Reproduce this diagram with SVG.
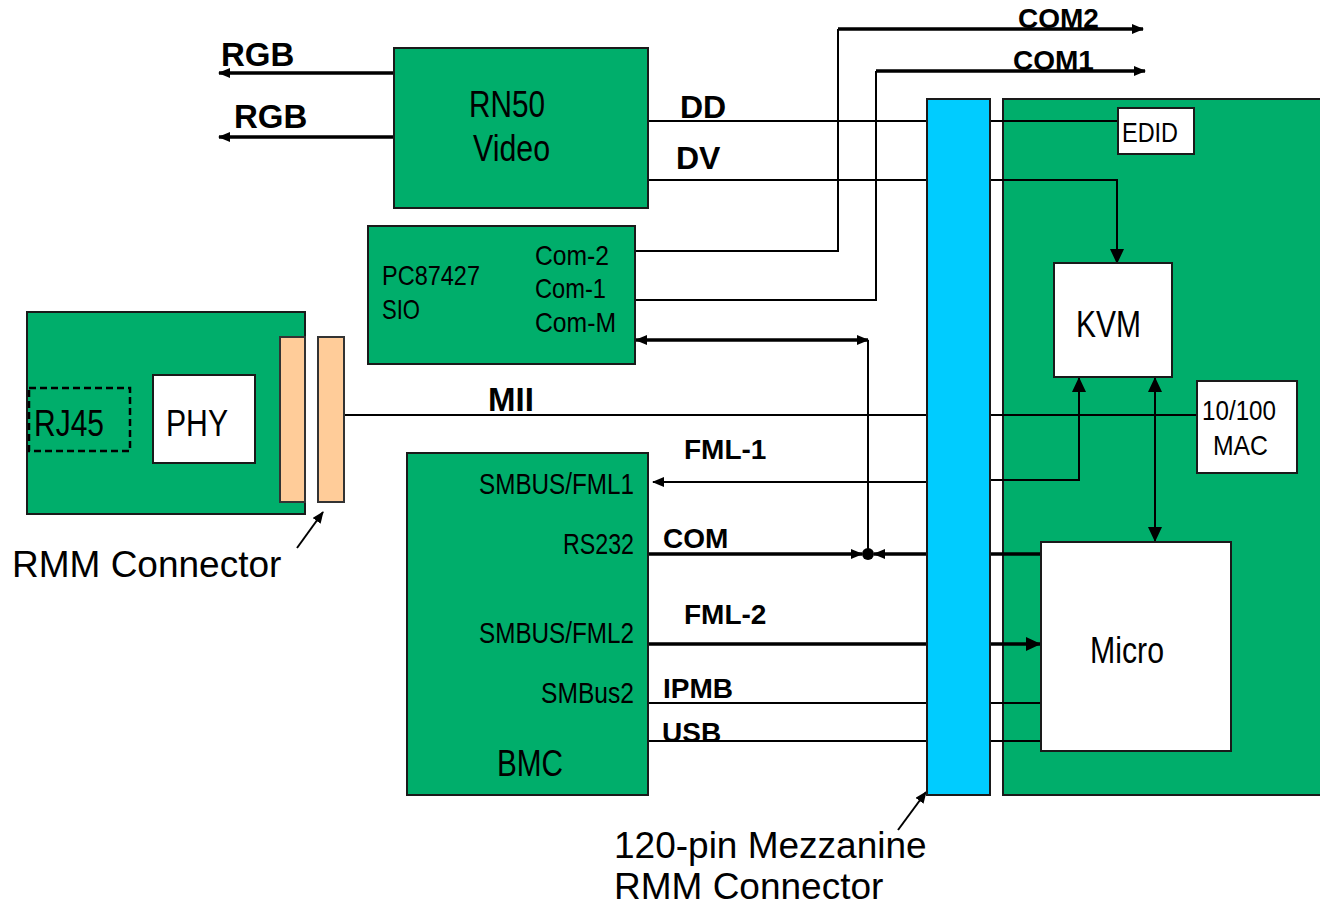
<svg xmlns="http://www.w3.org/2000/svg" width="1320" height="906" viewBox="0 0 1320 906">
<style>
.g{fill:#00ae6b;stroke:#1a1a1a;stroke-width:2}
.w{fill:#fff;stroke:#1a1a1a;stroke-width:2}
.o{fill:#ffcc99;stroke:#333;stroke-width:2}
.b{fill:#00ccff;stroke:#1a1a1a;stroke-width:2}
.n{font-family:"Liberation Sans Narrow","Liberation Sans",Arial,sans-serif;fill:#000}
.bl{font-family:"Liberation Sans",Arial,sans-serif;font-weight:bold;fill:#000}
.r{font-family:"Liberation Sans",Arial,sans-serif;fill:#000}
.c{fill:none;stroke:#000;stroke-width:2}
.t{fill:none;stroke:#000;stroke-width:3.5}
</style>
<defs>
<marker id="ah" markerUnits="userSpaceOnUse" markerWidth="15" markerHeight="14" refX="14" refY="7" orient="auto-start-reverse"><path d="M0,0 L15,7 L0,14 z" fill="#000"/></marker>
<marker id="ahs" markerUnits="userSpaceOnUse" markerWidth="12" markerHeight="10" refX="11" refY="5" orient="auto-start-reverse"><path d="M0,0 L12,5 L0,10 z" fill="#000"/></marker>
</defs>
<g id="rmm-board"><rect class="g" x="1003" y="99" width="320" height="696"/></g>
<g id="connectors">
<path class="t" d="M394,73 H219" marker-end="url(#ahs)"/>
<path class="t" d="M394,137 H219" marker-end="url(#ahs)"/>
<path class="c" d="M648,121 H1118"/>
<path class="c" d="M648,180 H1117 V263" marker-end="url(#ah)"/>
<path class="c" d="M635,251 H838 V29"/>
<path class="t" d="M838,29 H1143" marker-end="url(#ahs)"/>
<path class="c" d="M635,300 H876 V71"/>
<path class="t" d="M876,71 H1145" marker-end="url(#ahs)"/>
<path class="t" d="M636,340 H868" marker-start="url(#ahs)" marker-end="url(#ahs)"/>
<path class="c" d="M868,340 V554"/>
<path class="c" d="M344,415 H1197"/>
<path class="c" d="M255,413 L280,408"/>
<path class="c" d="M927,482 H653" marker-end="url(#ahs)"/>
<path class="c" d="M990,480 H1079 V378" marker-end="url(#ah)"/>
<path class="t" d="M648,554 H862" marker-end="url(#ahs)"/>
<path class="t" d="M927,554 H874" marker-end="url(#ahs)"/>
<path class="t" d="M990,554 H1041"/>
<circle cx="868" cy="554" r="6" fill="#000"/>
<path class="c" d="M1155,378 V541" marker-start="url(#ah)" marker-end="url(#ah)"/>
<path class="t" d="M648,644 H927"/>
<path class="t" d="M990,644 H1040" marker-end="url(#ah)"/>
<path class="c" d="M648,703 H927 M990,703 H1041"/>
<path class="c" d="M648,741 H927 M990,741 H1041"/>
<path class="c" d="M297,548 L323,512" marker-end="url(#ahs)"/>
<path class="c" d="M898,830 L926,792" marker-end="url(#ahs)"/>
</g>
<g id="labels">
<text class="bl" x="221" y="66" font-size="33">RGB</text>
<text class="bl" x="234" y="128" font-size="33">RGB</text>
<text class="bl" x="1018" y="28" font-size="28">COM2</text>
<text class="bl" x="1013" y="70" font-size="28">COM1</text>
<text class="bl" x="680" y="118" font-size="32">DD</text>
<text class="bl" x="676" y="169" font-size="32">DV</text>
<text class="bl" x="488" y="411" font-size="33">MII</text>
<text class="bl" x="684" y="459" font-size="28">FML-1</text>
<text class="bl" x="663" y="548" font-size="28">COM</text>
<text class="bl" x="684" y="624" font-size="28">FML-2</text>
<text class="bl" x="663" y="698" font-size="28">IPMB</text>
<text class="bl" x="662" y="742" font-size="28">USB</text>
<text class="r" x="12" y="577" font-size="37">RMM Connector</text>
<text class="r" x="614" y="858" font-size="37">120-pin Mezzanine</text>
<text class="r" x="614" y="899" font-size="37">RMM Connector</text>
</g>
<g id="rn50"><rect class="g" x="394" y="48" width="254" height="160"/>
<text class="n" x="469" y="117" font-size="36" textLength="76" lengthAdjust="spacingAndGlyphs">RN50</text>
<text class="n" x="473" y="161" font-size="36" textLength="77" lengthAdjust="spacingAndGlyphs">Video</text></g>
<g id="sio"><rect class="g" x="368" y="226" width="267" height="138"/>
<text class="n" x="382" y="285" font-size="28" textLength="98" lengthAdjust="spacingAndGlyphs">PC87427</text>
<text class="n" x="382" y="319" font-size="28" textLength="38" lengthAdjust="spacingAndGlyphs">SIO</text>
<text class="n" x="535" y="265" font-size="28" textLength="74" lengthAdjust="spacingAndGlyphs">Com-2</text>
<text class="n" x="535" y="298" font-size="28" textLength="71" lengthAdjust="spacingAndGlyphs">Com-1</text>
<text class="n" x="535" y="332" font-size="28" textLength="81" lengthAdjust="spacingAndGlyphs">Com-M</text></g>
<g id="rmm-card"><rect class="g" x="27" y="312" width="278" height="202"/>
<rect x="29" y="388" width="101" height="63" fill="none" stroke="#000" stroke-width="2.5" stroke-dasharray="7,4"/>
<text class="n" x="34" y="436" font-size="36" textLength="70" lengthAdjust="spacingAndGlyphs">RJ45</text></g>
<g id="phy"><rect class="w" x="153" y="375" width="102" height="88"/>
<text class="n" x="166" y="436" font-size="36" textLength="62" lengthAdjust="spacingAndGlyphs">PHY</text></g>
<g id="rmm-conn"><rect class="o" x="280" y="337" width="25" height="165"/><rect class="o" x="318" y="337" width="26" height="165"/></g>
<g id="bmc"><rect class="g" x="407" y="453" width="241" height="342"/>
<text class="n" x="479" y="494" font-size="30" textLength="155" lengthAdjust="spacingAndGlyphs">SMBUS/FML1</text>
<text class="n" x="563" y="554" font-size="30" textLength="71" lengthAdjust="spacingAndGlyphs">RS232</text>
<text class="n" x="479" y="643" font-size="30" textLength="155" lengthAdjust="spacingAndGlyphs">SMBUS/FML2</text>
<text class="n" x="541" y="703" font-size="30" textLength="93" lengthAdjust="spacingAndGlyphs">SMBus2</text>
<text class="n" x="497" y="776" font-size="36" textLength="66" lengthAdjust="spacingAndGlyphs">BMC</text></g>
<g id="mezzanine"><rect class="b" x="927" y="99" width="63" height="696"/></g>
<g id="edid"><rect class="w" x="1118" y="108" width="76" height="46"/>
<text class="n" x="1122" y="142" font-size="27" textLength="56" lengthAdjust="spacingAndGlyphs">EDID</text></g>
<g id="kvm"><rect class="w" x="1054" y="263" width="118" height="114"/>
<text class="n" x="1076" y="337" font-size="36" textLength="65" lengthAdjust="spacingAndGlyphs">KVM</text></g>
<g id="mac"><rect class="w" x="1197" y="381" width="100" height="92"/>
<text class="n" x="1202" y="420" font-size="28" textLength="74" lengthAdjust="spacingAndGlyphs">10/100</text>
<text class="n" x="1213" y="455" font-size="28" textLength="55" lengthAdjust="spacingAndGlyphs">MAC</text></g>
<g id="micro"><rect class="w" x="1041" y="542" width="190" height="209"/>
<text class="n" x="1090" y="663" font-size="36" textLength="74" lengthAdjust="spacingAndGlyphs">Micro</text></g>
</svg>
